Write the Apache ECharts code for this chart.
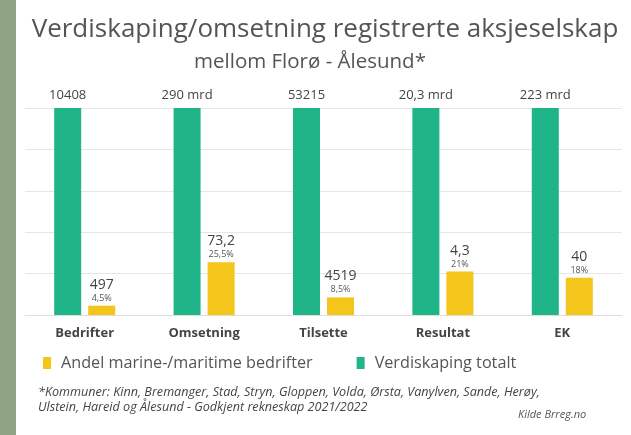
<!DOCTYPE html>
<html>
<head>
<meta charset="utf-8">
<script src="https://cdn.jsdelivr.net/npm/echarts@6/dist/echarts.min.js"></script>
<style>
  html, body { margin: 0; padding: 0; background: #fff; }
  #chart { width: 631px; height: 435px; }
</style>
</head>
<body>
<div id="chart"></div>
<script>
// data
const categories = ['Bedrifter', 'Omsetning', 'Tilsette', 'Resultat', 'EK'];
const totalShare = [100, 100, 100, 100, 100];          // Verdiskaping totalt (full bar)
const totalLabels = ['10408', '290 mrd', '53215', '20,3 mrd', '223 mrd'];
const marineShare = [4.5, 25.5, 8.5, 21, 18];          // andel i prosent
const marineLabels = ['497', '73,2', '4519', '4,3', '40'];
const marinePctLabels = ['4,5%', '25,5%', '8,5%', '21%', '18%'];

const FONT = '"Open Sans", sans-serif';
const GREEN = '#20b489';
const YELLOW = '#f4c51b';

const chart = echarts.init(document.getElementById('chart'));

chart.setOption({
    backgroundColor: '#fff',
    textStyle: { fontFamily: FONT },
    title: [
        {
            text: 'Verdiskaping/omsetning registrerte aksjeselskap',
            left: 320, top: 12, textAlign: 'center',
            textStyle: { fontFamily: FONT, fontSize: 26, fontWeight: 'normal', color: '#555' }
        },
        {
            text: 'mellom Florø - Ålesund*',
            left: 305, top: 47, textAlign: 'center',
            textStyle: { fontFamily: FONT, fontSize: 20.5, fontWeight: 'normal', color: '#555' }
        }
    ],
    graphic: [
        // grøn stripe til venstre
        { type: 'rect', left: 0, top: 0, shape: { width: 16, height: 435 }, style: { fill: '#8fa385' } },
        {
            type: 'text', left: 38, top: 385,
            style: {
                text: '*Kommuner: Kinn, Bremanger, Stad, Stryn, Gloppen, Volda, Ørsta, Vanylven, Sande, Herøy,\nUlstein, Hareid og Ålesund - Godkjent rekneskap 2021/2022',
                font: 'italic 12.6px ' + FONT, fill: '#444', lineHeight: 15
            }
        },
        {
            type: 'text', left: 518, top: 409,
            style: { text: 'Kilde Brreg.no', font: 'italic 11px ' + FONT, fill: '#555' }
        }
    ],
    legend: {
        data: ['Andel marine-/maritime bedrifter', 'Verdiskaping totalt'],
        left: 43, top: 355, padding: 0,
        icon: 'rect', itemWidth: 8, itemHeight: 12, itemGap: 44,
        textStyle: { fontFamily: FONT, fontSize: 16.2, color: '#555', padding: [0, 0, 0, 5] }
    },
    grid: { left: 25, right: 9, top: 108, bottom: 120, containLabel: false },
    xAxis: {
        type: 'category',
        data: categories,
        axisLine: { lineStyle: { color: '#ddd' } },
        axisTick: { show: false },
        axisLabel: { fontFamily: FONT, fontSize: 13, fontWeight: 'bold', color: '#444', margin: 12 }
    },
    yAxis: {
        type: 'value', min: 0, max: 100, interval: 20,
        axisLabel: { show: false },
        axisLine: { show: false },
        axisTick: { show: false },
        splitLine: { lineStyle: { color: '#e6e6e6' } }
    },
    series: [
        {
            name: 'Verdiskaping totalt',
            type: 'bar',
            data: totalShare,
            barWidth: 27,
            barGap: '26%',
            itemStyle: { color: GREEN },
            label: {
                show: true, position: 'top', distance: 6,
                fontFamily: FONT, fontSize: 13, color: '#444',
                formatter: p => totalLabels[p.dataIndex]
            }
        },
        {
            name: 'Andel marine-/maritime bedrifter',
            type: 'bar',
            data: marineShare,
            barWidth: 27,
            itemStyle: { color: YELLOW },
            label: {
                show: true, position: 'top', distance: 2,
                formatter: p => '{v|' + marineLabels[p.dataIndex] + '}\n{p|' + marinePctLabels[p.dataIndex] + '}',
                rich: {
                    v: { fontFamily: FONT, fontSize: 14, color: '#444', lineHeight: 16, align: 'center' },
                    p: { fontFamily: FONT, fontSize: 9, color: '#555', lineHeight: 11, align: 'center' }
                }
            }
        }
    ]
});
</script>
</body>
</html>
